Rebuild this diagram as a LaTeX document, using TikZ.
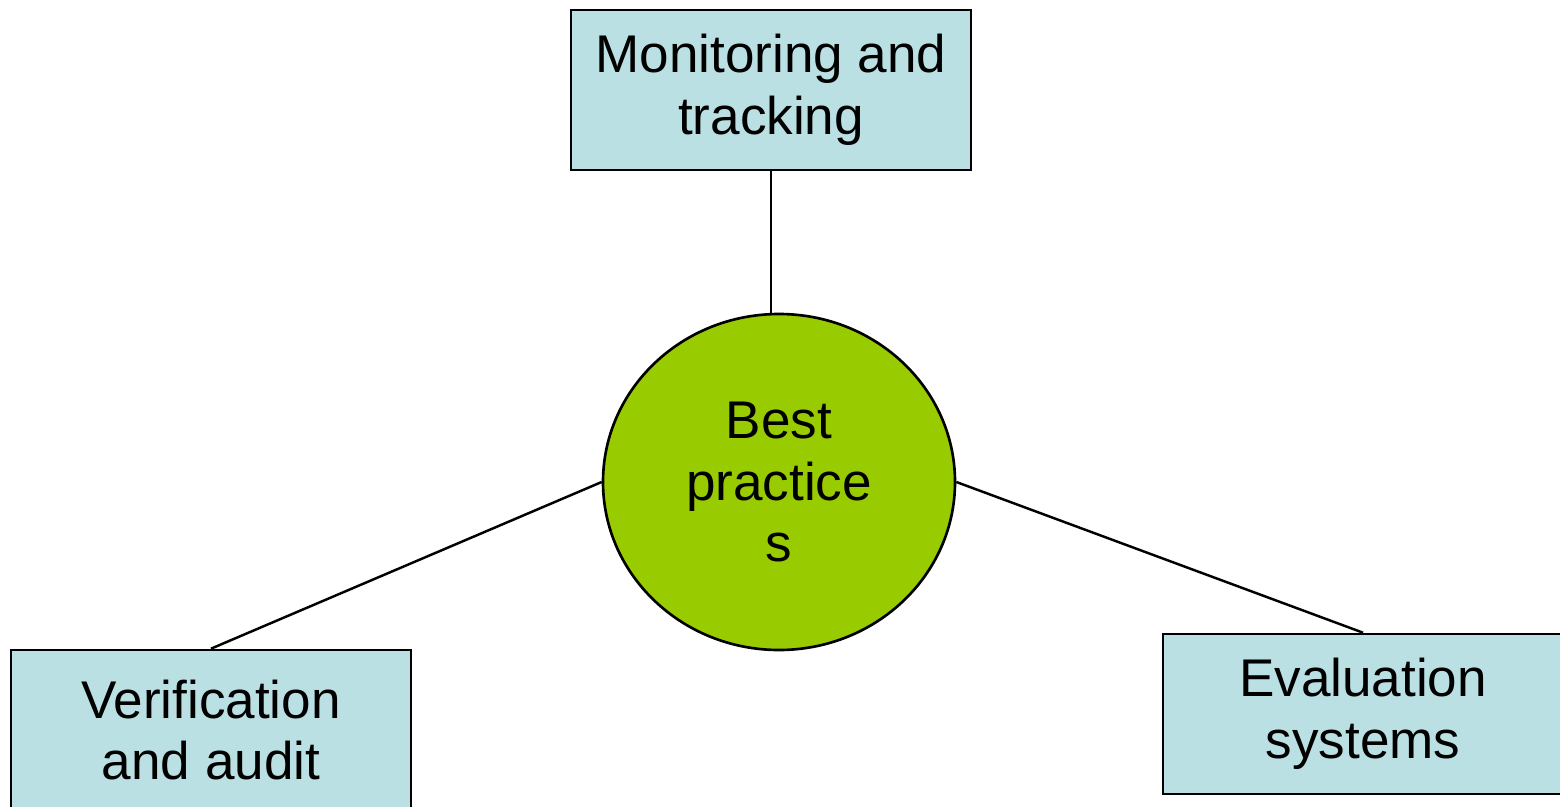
\documentclass[tikz,border=0pt]{standalone}
\usepackage{fontspec}
\setmainfont{Liberation Sans}
\usetikzlibrary{shapes.geometric,positioning}
\definecolor{boxblue}{HTML}{BBE0E3}
\definecolor{hubgreen}{HTML}{99CC00}
\tikzset{
  bpbox/.style={rectangle,draw,fill=boxblue,line width=0.75pt,minimum width=4cm,minimum height=1.6cm,align=center,inner sep=0pt},
  bphub/.style={ellipse,draw,fill=hubgreen,line width=0.75pt,minimum width=3.52cm,minimum height=3.36cm,align=center,inner sep=0pt},
  bplink/.style={line width=0.7pt}
}

\begin{document}
\begin{tikzpicture}[font=\fontsize{15.1pt}{17.6pt}\selectfont]
  \useasboundingbox (0,0) rectangle (15.6,-8.06);
  \node[bphub] (best) at (7.79,-4.82) {Best\\practice\\s};
  \node[bpbox] (mon) at (7.71,-0.90) {Monitoring and\\tracking};
  \node[bpbox] (ver) at (2.11,-7.30) {Verification\\and audit};
  \node[bpbox] (eval) at (13.63,-7.14) {Evaluation\\systems};
  \draw[bplink] (mon.south) -- (mon.south |- best.north);
  \draw[bplink] (best.west) -- (ver.north);
  \draw[bplink] (best.east) -- (eval.north);
\end{tikzpicture}
\end{document}
